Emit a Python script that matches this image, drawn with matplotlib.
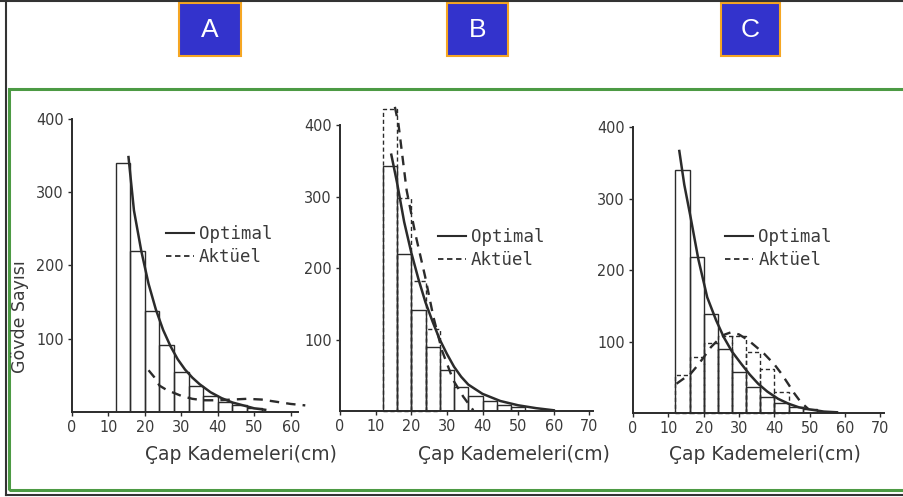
import matplotlib
matplotlib.use("Agg")
import matplotlib.pyplot as plt
from matplotlib.lines import Line2D
from matplotlib.patches import Rectangle

W, H = 904, 497

# diameter classes (left edges, 4 cm wide)
class_left = [12, 16, 20, 24, 28, 32, 36, 40, 44, 48]

# optimal histograms
opt_bars_a = [340, 220, 138, 92, 55, 35, 22, 14, 9, 5]
opt_bars_b = [343, 220, 141, 90, 57, 34, 21, 14, 9, 5]
opt_bars_c = [340, 218, 138, 90, 58, 36, 22, 14, 9, 5]

# actual histograms (dashed)
akt_bars_b = [423, 298, 182, 115]
akt_bars_c = [53, 78, 98, 108, 108, 85, 62, 29]

# optimal curves
opt_x_a = [15.5, 17, 19, 21, 23, 25, 27, 29, 31, 33, 35, 38, 41, 44, 47, 50, 53]
opt_y_a = [348, 275, 220, 175, 140, 112, 90, 72, 58, 47, 38, 27, 19, 13, 9, 5, 3]
opt_x_b = [14.4, 16, 18, 20, 22, 24, 26, 28, 30, 32, 34, 36, 40, 45, 50, 55, 60]
opt_y_b = [359, 320, 265, 222, 185, 152, 125, 100, 80, 62, 48, 37, 24, 14, 8, 4, 1]
opt_x_c = [13.1, 14.5, 16.3, 18.5, 21, 23.5, 25.7, 28, 30.6, 33, 35.4, 38, 41, 44, 46.9, 50, 54, 57.7]
opt_y_c = [367, 320, 274, 215, 162, 130, 106, 86, 69, 54, 41, 30, 20, 13, 8, 5, 2, 1]

# actual curves
akt_x_a = [21, 22.5, 24, 26, 28, 30, 33, 36, 40, 44, 48, 52, 56, 60, 64]
akt_y_a = [57, 48, 36, 30, 26, 22, 18, 16, 16, 17, 18, 17, 14, 11, 9]
akt_x_b = [15.4, 16.4, 18.7, 21.1, 23.9, 26.2, 28.6, 31.8, 34.6, 37.4]
akt_y_b = [426, 402, 309, 249, 188, 132, 85, 43, 20, 1]
akt_x_c = [12.3, 14, 16.3, 18, 20, 22, 24, 26, 27.7, 30, 32.6, 35, 37.1, 40, 42, 44, 45.7, 47.5, 49.5]
akt_y_c = [41, 47, 55, 65, 78, 92, 102, 110, 113, 110, 102, 92, 83, 68, 55, 40, 27, 15, 6]

y_ticks = [100, 200, 300, 400]
x_ticks_a = [0, 10, 20, 30, 40, 50, 60]
x_ticks_bc = [0, 10, 20, 30, 40, 50, 60, 70]
panel_letters = ["A", "B", "C"]

INK = "#2b2b2b"
TXT = "#3a3a3a"


def fx(x):
    return x / W


def fy(y):
    return 1 - y / H


fig = plt.figure(figsize=(W / 100, H / 100), dpi=100)
fig.patch.set_facecolor("white")

# outer frame and green panel frame
fig.add_artist(Line2D([0, 1], [fy(0.8), fy(0.8)], color="#333333", lw=1.5))
fig.add_artist(Line2D([fx(6), fx(6)], [fy(0), fy(495)], color="#333333", lw=1.5))
fig.add_artist(Line2D([fx(6), 1], [fy(495), fy(495)], color="#333333", lw=1.5))
fig.add_artist(Rectangle((fx(9), fy(490)), 1.2, fy(89) - fy(490), transform=fig.transFigure,
                         fill=False, edgecolor="#4c9a44", lw=2.2))

# letter boxes
for letter, (l, r) in zip(panel_letters, [(179, 241), (447, 508), (721, 780)]):
    fig.add_artist(Rectangle((fx(l), fy(56)), fx(r) - fx(l), fy(3) - fy(56), transform=fig.transFigure,
                             facecolor="#3333cc", edgecolor="#f5a623", lw=1.5))
    fig.text(fx((l + r) / 2), fy(30), letter, color="white", fontsize=19,
             family="Liberation Sans", ha="center", va="center")

# axes placement in pixels: left, right, bottom (y=0), top (ylim top)
panels = [
    dict(box=(72, 298, 412, 97), xlim=62, ticks=x_ticks_a, bars=opt_bars_a, akt_bars=None,
         ox=opt_x_a, oy=opt_y_a, ax_=akt_x_a, ay=akt_y_a, leg=(0.385, 0.615), xl=241),
    dict(box=(340, 593, 411, 104), xlim=71, ticks=x_ticks_bc, bars=opt_bars_b, akt_bars=akt_bars_b,
         ox=opt_x_b, oy=opt_y_b, ax_=akt_x_b, ay=akt_y_b, leg=(0.36, 0.62), xl=514),
    dict(box=(633, 884, 413, 106), xlim=71, ticks=x_ticks_bc, bars=opt_bars_c, akt_bars=akt_bars_c,
         ox=opt_x_c, oy=opt_y_c, ax_=akt_x_c, ay=akt_y_c, leg=(0.34, 0.625), xl=765),
]

for p in panels:
    l, r, b, t = p["box"]
    ax = fig.add_axes([fx(l), fy(b), fx(r) - fx(l), fy(t) - fy(b)])
    ax.set_xlim(0, p["xlim"])
    ax.set_ylim(0, 430)
    ax.patch.set_alpha(0)
    for s in ["top", "right"]:
        ax.spines[s].set_visible(False)
    ax.spines["left"].set_bounds(0, 400)
    for s in ["left", "bottom"]:
        ax.spines[s].set_color(INK)
        ax.spines[s].set_linewidth(1.4)
    ax.set_yticks(y_ticks)
    ax.set_xticks(p["ticks"])
    ax.tick_params(length=3, width=1, color=INK, labelcolor=TXT, labelsize=11.5, pad=3)
    for lab in ax.get_xticklabels() + ax.get_yticklabels():
        lab.set_family("DejaVu Sans")
        lab.set_stretch("condensed")

    ax.bar(class_left[:len(p["bars"])], p["bars"], width=4, align="edge",
           facecolor="none", edgecolor=INK, lw=1.0)
    if p["akt_bars"]:
        ax.bar(class_left[:len(p["akt_bars"])], p["akt_bars"], width=4, align="edge",
               facecolor="none", edgecolor=INK, lw=1.0, linestyle=(0, (3, 2)), clip_on=False)

    ax.plot(p["ox"], p["oy"], color=INK, lw=1.8, clip_on=False)
    ax.plot(p["ax_"], p["ay"], color=INK, lw=1.7, linestyle=(0, (4, 3)), clip_on=False)

    handles = [Line2D([], [], color=INK, lw=1.5), Line2D([], [], color=INK, lw=1.3, linestyle=(0, (3, 2)))]
    ax.legend(handles, ["Optimal", "Aktüel"], loc="upper left", bbox_to_anchor=p["leg"],
              frameon=False, handlelength=1.6, handletextpad=0.3, labelspacing=0.3,
              borderaxespad=0, prop={"family": "DejaVu Sans Mono", "size": 12.5},
              labelcolor=TXT)

    fig.text(fx(p["xl"]), fy(455), "Çap Kademeleri(cm)", color=TXT, fontsize=13.5,
             family="DejaVu Sans", ha="center", va="center")

fig.text(fx(20), fy(317), "Gövde Sayısı", color=TXT, fontsize=12.5, family="DejaVu Sans",
         rotation=90, ha="center", va="center")

fig.savefig("out.png", dpi=100, facecolor="white")
